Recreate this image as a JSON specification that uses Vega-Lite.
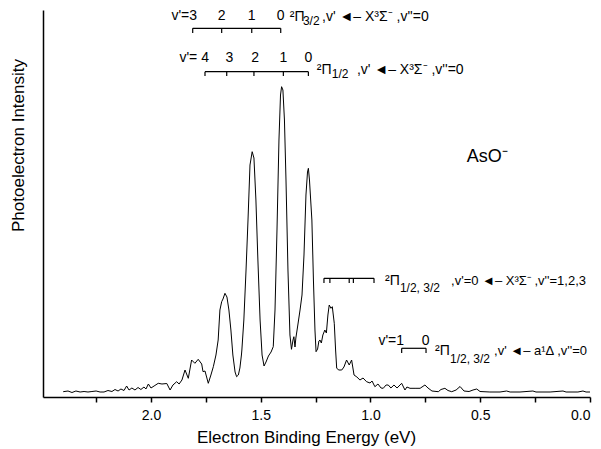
{
 "$schema": "https://vega.github.io/schema/vega-lite/v6.json",
 "width": 547, "height": 387,
 "autosize": {"type": "none"},
 "padding": {"left": 43, "top": 10, "right": 11, "bottom": 52},
 "background": "white",
 "config": {"view": {"stroke": null}, "font": "Liberation Sans"},
 "datasets": {
  "spec": [
   {"E":2.400,"I":5.3},{"E":2.378,"I":6},{"E":2.360,"I":4.5},{"E":2.342,"I":6},{"E":2.323,"I":5},{"E":2.305,"I":5.5},{"E":2.287,"I":5},{"E":2.269,"I":5.5},{"E":2.250,"I":6},{"E":2.232,"I":5},{"E":2.214,"I":5},{"E":2.196,"I":6.5},{"E":2.178,"I":5.5},{"E":2.164,"I":7.5},{"E":2.150,"I":6},{"E":2.137,"I":8},{"E":2.123,"I":6.5},{"E":2.111,"I":11},{"E":2.100,"I":7},{"E":2.087,"I":9},{"E":2.073,"I":7},{"E":2.059,"I":9.5},{"E":2.046,"I":7.5},{"E":2.032,"I":10},{"E":2.023,"I":8},{"E":2.012,"I":13},{"E":2.000,"I":9},{"E":1.986,"I":11},{"E":1.967,"I":13.7},{"E":1.950,"I":13},{"E":1.928,"I":13.5},{"E":1.913,"I":7},{"E":1.900,"I":12},{"E":1.883,"I":15.3},{"E":1.872,"I":13},{"E":1.859,"I":17},{"E":1.845,"I":27},{"E":1.830,"I":18.7},{"E":1.815,"I":37},{"E":1.800,"I":33.7},{"E":1.785,"I":37.7},{"E":1.769,"I":33},{"E":1.763,"I":25.3},{"E":1.754,"I":26},{"E":1.739,"I":13.7},{"E":1.727,"I":22},{"E":1.716,"I":30.3},{"E":1.704,"I":42},{"E":1.694,"I":57},{"E":1.686,"I":87},{"E":1.678,"I":95.3},{"E":1.672,"I":98},{"E":1.663,"I":103.7},{"E":1.654,"I":100},{"E":1.645,"I":87},{"E":1.636,"I":67},{"E":1.627,"I":42},{"E":1.617,"I":25},{"E":1.610,"I":20.3},{"E":1.602,"I":22},{"E":1.595,"I":29},{"E":1.588,"I":42},{"E":1.586,"I":47},{"E":1.577,"I":77},{"E":1.567,"I":127},{"E":1.558,"I":177},{"E":1.549,"I":232},{"E":1.539,"I":245.3},{"E":1.531,"I":239},{"E":1.522,"I":197},{"E":1.513,"I":137},{"E":1.503,"I":77},{"E":1.494,"I":42},{"E":1.485,"I":31},{"E":1.476,"I":35},{"E":1.465,"I":41},{"E":1.453,"I":45},{"E":1.443,"I":50.3},{"E":1.435,"I":87},{"E":1.426,"I":167},{"E":1.417,"I":257},{"E":1.410,"I":302},{"E":1.405,"I":310.3},{"E":1.399,"I":307},{"E":1.392,"I":277},{"E":1.385,"I":217},{"E":1.376,"I":127},{"E":1.367,"I":62},{"E":1.360,"I":47.7},{"E":1.353,"I":57},{"E":1.349,"I":60.3},{"E":1.344,"I":50},{"E":1.340,"I":59},{"E":1.331,"I":72},{"E":1.321,"I":87},{"E":1.312,"I":102},{"E":1.303,"I":142},{"E":1.294,"I":202},{"E":1.287,"I":225},{"E":1.283,"I":228.7},{"E":1.278,"I":217},{"E":1.267,"I":177},{"E":1.260,"I":117},{"E":1.253,"I":67},{"E":1.248,"I":45.3},{"E":1.241,"I":48},{"E":1.235,"I":56},{"E":1.230,"I":57},{"E":1.224,"I":54},{"E":1.217,"I":62},{"E":1.208,"I":67},{"E":1.201,"I":64},{"E":1.194,"I":82},{"E":1.188,"I":92},{"E":1.180,"I":88.7},{"E":1.174,"I":90.3},{"E":1.165,"I":73.7},{"E":1.159,"I":47},{"E":1.154,"I":28.7},{"E":1.144,"I":27},{"E":1.131,"I":27},{"E":1.121,"I":30},{"E":1.109,"I":37},{"E":1.097,"I":32},{"E":1.086,"I":37},{"E":1.075,"I":22},{"E":1.062,"I":20},{"E":1.048,"I":17},{"E":1.034,"I":19},{"E":1.018,"I":15.3},{"E":1.002,"I":14},{"E":0.993,"I":16},{"E":0.980,"I":10.3},{"E":0.966,"I":13},{"E":0.952,"I":9},{"E":0.942,"I":8.7},{"E":0.929,"I":12},{"E":0.919,"I":12},{"E":0.907,"I":9},{"E":0.893,"I":12},{"E":0.879,"I":9},{"E":0.858,"I":13.7},{"E":0.843,"I":7},{"E":0.834,"I":10},{"E":0.820,"I":8.7},{"E":0.797,"I":8.7},{"E":0.774,"I":8.7},{"E":0.752,"I":12},{"E":0.738,"I":9},{"E":0.720,"I":6},{"E":0.691,"I":5.3},{"E":0.679,"I":7.5},{"E":0.661,"I":8.7},{"E":0.647,"I":6.5},{"E":0.630,"I":5.3},{"E":0.610,"I":7},{"E":0.592,"I":10.5},{"E":0.574,"I":6},{"E":0.551,"I":5.5},{"E":0.533,"I":7},{"E":0.516,"I":8},{"E":0.501,"I":5.5},{"E":0.456,"I":5},{"E":0.410,"I":5},{"E":0.380,"I":6},{"E":0.364,"I":5},{"E":0.319,"I":5},{"E":0.260,"I":6},{"E":0.246,"I":5},{"E":0.182,"I":5},{"E":0.123,"I":6},{"E":0.109,"I":5},{"E":0.055,"I":5},{"E":0.032,"I":6},{"E":0.018,"I":5},{"E":0.000,"I":5}
  ],
  "hlines": [
   {"E":1.810,"E2":1.409,"I":368.7},
   {"E":1.754,"E2":1.283,"I":325.3},
   {"E":1.212,"E2":0.984,"I":118.7},
   {"E":0.858,"E2":0.747,"I":48.7}
  ],
  "vticks": [
   {"E":1.810,"I":368.7,"I2":364},{"E":1.678,"I":368.7,"I2":364},{"E":1.541,"I":368.7,"I2":364},{"E":1.409,"I":368.7,"I2":364},
   {"E":1.754,"I":325.3,"I2":321},{"E":1.655,"I":325.3,"I2":321},{"E":1.531,"I":325.3,"I2":321},{"E":1.397,"I":325.3,"I2":321},{"E":1.283,"I":325.3,"I2":321},
   {"E":1.212,"I":118.7,"I2":114},{"E":1.185,"I":118.7,"I2":114},{"E":1.097,"I":118.7,"I2":114},{"E":1.078,"I":118.7,"I2":114},{"E":0.984,"I":118.7,"I2":114},
   {"E":0.858,"I":48.7,"I2":44},{"E":0.747,"I":48.7,"I2":44}
  ],
  "txt": [
   {"E":1.368,"I":376,"t":"²Π"},{"E":1.221,"I":376,"t":",v' ◄– X³Σ⁻ ,v''=0"},
   {"E":1.245,"I":323,"t":"²Π"},{"E":1.062,"I":323,"t":",v' ◄– X³Σ⁻ ,v''=0"},
   {"E":0.934,"I":112,"t":"²Π"},
   {"E":0.706,"I":42,"t":"²Π"}
  ],
  "txt2": [
   {"E":0.633,"I":112,"t":",v'=0 ◄– X³Σ⁻ ,v''=1,2,3"},
   {"E":0.437,"I":42,"t":",v' ◄– a¹Δ ,v''=0"}
  ],
  "sub": [
   {"E":1.308,"I":372,"t":"3/2"},
   {"E":1.176,"I":319,"t":"1/2"},
   {"E":0.866,"I":105,"t":"1/2, 3/2"},
   {"E":0.638,"I":34,"t":"1/2, 3/2"}
  ],
  "num": [
   {"E":1.678,"I":377.5,"t":"2"},{"E":1.541,"I":377.5,"t":"1"},{"E":1.409,"I":377.5,"t":"0"},
   {"E":1.643,"I":335,"t":"3"},{"E":1.526,"I":335,"t":"2"},{"E":1.397,"I":335,"t":"1"},{"E":1.283,"I":335,"t":"0"},
   {"E":0.749,"I":52,"t":"0"}
  ],
  "numr": [
   {"E":1.790,"I":377.5,"t":"v'=3"},
   {"E":1.736,"I":335,"t":"v'= 4"},
   {"E":0.847,"I":52,"t":"v'=1"}
  ],
  "mol": [{"E":0.562,"I":235.3,"t":"AsO⁻"}]
 },
 "layer": [
  {
   "data": {"name": "spec"},
   "mark": {"type": "line", "color": "black", "strokeWidth": 1},
   "encoding": {
    "x": {"field": "E", "type": "quantitative",
      "scale": {"domain": [0, 2.492], "reverse": true, "nice": false, "zero": false},
      "axis": {"orient": "bottom", "title": "Electron Binding Energy (eV)",
        "values": [0, 0.25, 0.5, 0.75, 1, 1.25, 1.5, 1.75, 2, 2.25],
        "labelExpr": "(datum.value * 2) % 1 === 0 ? format(datum.value, '.1f') : ''",
        "grid": false, "tickSize": 5, "tickWidth": 1.5, "tickColor": "black",
        "domainColor": "black", "domainWidth": 1.5,
        "labelFontSize": 14, "labelColor": "black", "labelPadding": 6, "labelFont": "Liberation Sans",
        "titleFontSize": 17, "titleFontWeight": "normal", "titleColor": "black", "titlePadding": 7, "titleFont": "Liberation Sans",
        "titleX": 263, "titleAnchor": "middle"}},
    "y": {"field": "I", "type": "quantitative",
      "scale": {"domain": [0, 387], "nice": false, "zero": false},
      "axis": {"orient": "left", "title": "Photoelectron  Intensity", "ticks": false, "labels": false, "grid": false,
        "domainColor": "black", "domainWidth": 1.5,
        "titleFontSize": 17, "titleFontWeight": "normal", "titleColor": "black", "titleFont": "Liberation Sans",
        "titleX": -25, "titleY": 135, "titleAngle": -90, "titleAlign": "center", "titleBaseline": "middle"}}
   }
  },
  {
   "data": {"name": "hlines"},
   "mark": {"type": "rule", "color": "black", "strokeWidth": 1.2},
   "encoding": {
    "x": {"field": "E", "type": "quantitative"},
    "x2": {"field": "E2"},
    "y": {"field": "I", "type": "quantitative"}
   }
  },
  {
   "data": {"name": "vticks"},
   "mark": {"type": "rule", "color": "black", "strokeWidth": 1.2},
   "encoding": {
    "x": {"field": "E", "type": "quantitative"},
    "y": {"field": "I", "type": "quantitative"},
    "y2": {"field": "I2"}
   }
  },
  {
   "data": {"name": "txt"},
   "mark": {"type": "text", "align": "left", "baseline": "alphabetic", "fontSize": 14, "color": "black"},
   "encoding": {
    "x": {"field": "E", "type": "quantitative"},
    "y": {"field": "I", "type": "quantitative"},
    "text": {"field": "t"}
   }
  },
  {
   "data": {"name": "txt2"},
   "mark": {"type": "text", "align": "left", "baseline": "alphabetic", "fontSize": 13, "color": "black"},
   "encoding": {
    "x": {"field": "E", "type": "quantitative"},
    "y": {"field": "I", "type": "quantitative"},
    "text": {"field": "t"}
   }
  },
  {
   "data": {"name": "sub"},
   "mark": {"type": "text", "align": "left", "baseline": "alphabetic", "fontSize": 12, "color": "black"},
   "encoding": {
    "x": {"field": "E", "type": "quantitative"},
    "y": {"field": "I", "type": "quantitative"},
    "text": {"field": "t"}
   }
  },
  {
   "data": {"name": "num"},
   "mark": {"type": "text", "align": "center", "baseline": "alphabetic", "fontSize": 14, "color": "black"},
   "encoding": {
    "x": {"field": "E", "type": "quantitative"},
    "y": {"field": "I", "type": "quantitative"},
    "text": {"field": "t"}
   }
  },
  {
   "data": {"name": "numr"},
   "mark": {"type": "text", "align": "right", "baseline": "alphabetic", "fontSize": 14, "color": "black"},
   "encoding": {
    "x": {"field": "E", "type": "quantitative"},
    "y": {"field": "I", "type": "quantitative"},
    "text": {"field": "t"}
   }
  },
  {
   "data": {"name": "mol"},
   "mark": {"type": "text", "align": "left", "baseline": "alphabetic", "fontSize": 18, "color": "black"},
   "encoding": {
    "x": {"field": "E", "type": "quantitative"},
    "y": {"field": "I", "type": "quantitative"},
    "text": {"field": "t"}
   }
  }
 ]
}
